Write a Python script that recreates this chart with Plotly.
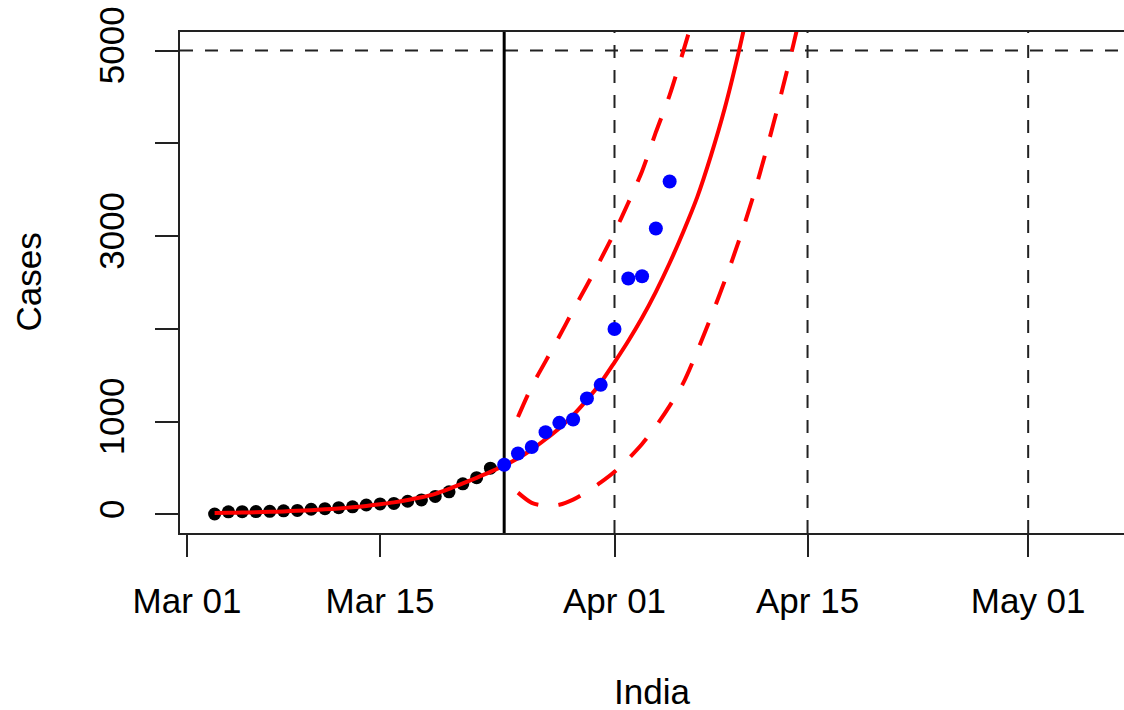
import pandas as pd
import plotly.graph_objects as go

# ---- data ----
obs_start = "2020-03-03"   # black points: observed, used for fit
obs_cases = [5, 28, 30, 31, 34, 39, 43, 56, 62, 73, 82, 102, 113, 119, 142,
             156, 194, 244, 330, 396, 499]

new_start = "2020-03-24"   # blue points: later observations
new_cases = [536, 657, 727, 887, 987, 1024, 1251, 1397, 1998, 2543, 2567,
             3082, 3588]

fit_start = "2020-03-03"   # red solid fitted curve
fit_vals = [15, 17, 20, 24, 28, 33, 39, 46, 55, 65, 77, 92, 110, 130, 155,
            185, 222, 275, 335, 395, 458, 527, 605, 700, 810, 930, 1070,
            1235, 1420, 1640, 1870, 2120, 2400, 2710, 3050, 3420, 3870,
            4380, 4980, 5650]

band_start = "2020-03-25"  # red dashed prediction band
upper_vals = [1050, 1380, 1650, 1920, 2200, 2470, 2750, 3040, 3360, 3700,
              4120, 4520, 5000, 5500]
lower_vals = [235, 125, 95, 105, 160, 245, 345, 460, 600, 760, 950, 1170,
              1420, 1760, 2130, 2520, 2940, 3400, 3920, 4480, 5080, 5730]

split_date = "2020-03-24"
ref_dates = ["2020-04-01", "2020-04-15", "2020-05-01"]
ref_level = 5000

x_tick_vals = ["2020-03-01", "2020-03-15", "2020-04-01", "2020-04-15", "2020-05-01"]
x_tick_text = ["Mar 01", "Mar 15", "Apr 01", "Apr 15", "May 01"]
y_tick_vals = [0, 1000, 2000, 3000, 4000, 5000]
y_tick_text = ["0", "1000", "", "3000", "", "5000"]


def dates(start, n):
    return pd.date_range(start, periods=n, freq="D")


FONT = "Liberation Sans, Arial, Helvetica, sans-serif"
INK = "#222222"

fig = go.Figure()

fig.add_trace(go.Scatter(
    x=dates(obs_start, len(obs_cases)), y=obs_cases, mode="markers",
    marker=dict(color="black", size=13, line=dict(width=0)), showlegend=False))

fig.add_trace(go.Scatter(
    x=dates(fit_start, len(fit_vals)), y=fit_vals, mode="lines",
    line=dict(color="#ff0000", width=4, shape="spline", smoothing=0.8),
    showlegend=False))

fig.add_trace(go.Scatter(
    x=dates(band_start, len(upper_vals)), y=upper_vals, mode="lines",
    line=dict(color="#ff0000", width=4, dash="24px,20px", shape="spline", smoothing=0.8),
    showlegend=False))

fig.add_trace(go.Scatter(
    x=dates(band_start, len(lower_vals)), y=lower_vals, mode="lines",
    line=dict(color="#ff0000", width=4, dash="24px,20px", shape="spline", smoothing=0.8),
    showlegend=False))

fig.add_trace(go.Scatter(
    x=dates(new_start, len(new_cases)), y=new_cases, mode="markers",
    marker=dict(color="#0000ff", size=14, line=dict(width=0)), showlegend=False))

shapes = []
for d in ref_dates:
    shapes.append(dict(type="line", xref="x", yref="paper", x0=d, x1=d, y0=0, y1=1,
                       line=dict(color=INK, width=2, dash="13px,12px"), layer="below"))
shapes.append(dict(type="line", xref="paper", yref="y", x0=0, x1=1, y0=ref_level, y1=ref_level,
                   line=dict(color=INK, width=2, dash="13px,12px"), layer="below"))
shapes.append(dict(type="line", xref="x", yref="paper", x0=split_date, x1=split_date, y0=0, y1=1,
                   line=dict(color="black", width=3), layer="below"))

fig.update_layout(
    width=1124, height=710,
    margin=dict(l=180, r=0, t=32, b=177),
    paper_bgcolor="white", plot_bgcolor="white",
    font=dict(family=FONT, size=35, color="black"),
    shapes=shapes,
    showlegend=False,
    xaxis=dict(
        type="date", range=["2020-02-29 11:45", "2020-05-07 22:48"],
        tickvals=x_tick_vals, ticktext=x_tick_text,
        showgrid=False, zeroline=False,
        showline=True, mirror=True, linecolor=INK, linewidth=2,
        ticks="outside", ticklen=22, tickwidth=2, tickcolor=INK,
        ticklabelstandoff=14,
    ),
    yaxis=dict(
        range=[-200, 5200],
        tickvals=y_tick_vals, ticktext=y_tick_text, tickangle=-90,
        showgrid=False, zeroline=False,
        showline=True, mirror=False, linecolor=INK, linewidth=2,
        ticks="outside", ticklen=23, tickwidth=2, tickcolor=INK,
        ticklabelstandoff=17, ticklabeloverflow="allow",
    ),
    annotations=[
        dict(text="Cases", xref="paper", yref="paper", x=0, y=0.5, xshift=-152,
             textangle=-90, showarrow=False, xanchor="center", yanchor="middle",
             font=dict(size=35)),
        dict(text="India", xref="paper", yref="paper", x=0.5, y=0, yshift=-158,
             showarrow=False, xanchor="center", yanchor="middle",
             font=dict(size=35)),
    ],
)

# remove the page's default body margin so the figure fills the window exactly
fig.write_html(
    "out.html",
    config={"displayModeBar": False},
    post_script="document.body.style.margin='0';document.body.style.overflow='hidden';",
)
